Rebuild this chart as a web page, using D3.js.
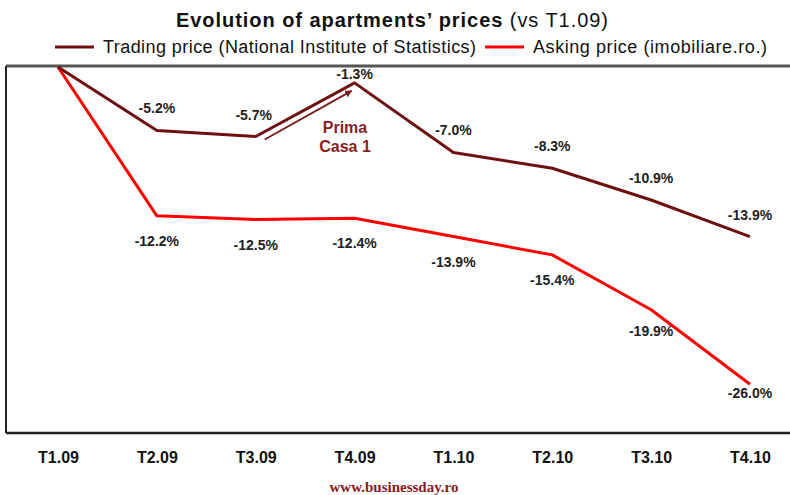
<!DOCTYPE html>
<meta charset="utf-8">
<head>
<script src="https://cdn.jsdelivr.net/npm/d3@7"></script>
<style>
  body { margin: 0; background: #fff; }
  svg { font-family: "Liberation Sans", Arial, sans-serif; }
</style>
</head>
<body>
<div id="chart"></div>
<script>
  var quarters = ["T1.09", "T2.09", "T3.09", "T4.09", "T1.10", "T2.10", "T3.10", "T4.10"];
  var tradingPrice = [0, -5.2, -5.7, -1.3, -7.0, -8.3, -10.9, -13.9];
  var askingPrice = [0, -12.2, -12.5, -12.4, -13.9, -15.4, -19.9, -26.0];

  var width = 790, height = 495;
  var frame = { left: 6, top: 66, bottom: 433 };
  var darkRed = "#6e1010", red = "#ff0000";

  var svg = d3.select("#chart").append("svg")
    .attr("width", width)
    .attr("height", height);

  var x = d3.scalePoint().domain(quarters).range([58, 750]);
  var y = d3.scaleLinear().domain([-30, 0]).range([frame.bottom, frame.top + 1]);

  // title
  var title = svg.append("text")
    .attr("x", 392).attr("y", 27)
    .attr("text-anchor", "middle")
    .attr("textLength", 432)
    .style("font-size", "20px").attr("fill", "#111");
  title.append("tspan").style("font-weight", "bold").text("Evolution of apartments\u2019 prices ");
  title.append("tspan").text("(vs T1.09)");

  // legend
  var legend = [
    { name: "Trading price (National Institute of Statistics)", color: darkRed, x: 55, len: 373 },
    { name: "Asking price (imobiliare.ro.)", color: red, x: 485, len: 234 }
  ];
  legend.forEach(function (d) {
    svg.append("line")
      .attr("x1", d.x).attr("x2", d.x + 39)
      .attr("y1", 47).attr("y2", 47)
      .attr("stroke", d.color).attr("stroke-width", 3);
    svg.append("text")
      .attr("x", d.x + 48).attr("y", 53)
      .attr("textLength", d.len)
      .style("font-size", "18px").attr("fill", "#111")
      .text(d.name);
  });

  // frame
  svg.append("line").attr("x1", frame.left).attr("x2", width)
    .attr("y1", frame.top).attr("y2", frame.top)
    .attr("stroke", "#555").attr("stroke-width", 3);
  svg.append("line").attr("x1", frame.left).attr("x2", frame.left)
    .attr("y1", frame.top).attr("y2", frame.bottom)
    .attr("stroke", "#222").attr("stroke-width", 2);
  svg.append("line").attr("x1", frame.left).attr("x2", width)
    .attr("y1", frame.bottom).attr("y2", frame.bottom)
    .attr("stroke", "#222").attr("stroke-width", 2.5);

  // x axis labels
  var xAxis = d3.axisBottom(x).tickSize(0).tickPadding(0);
  var gx = svg.append("g").attr("transform", "translate(0," + 452 + ")").call(xAxis);
  gx.select(".domain").remove();
  gx.selectAll("text")
    .style("font-size", "16px").style("font-weight", "bold")
    .style("font-family", "'Liberation Sans', Arial, sans-serif")
    .attr("fill", "#111");

  var line = d3.line()
    .x(function (d, i) { return x(quarters[i]); })
    .y(function (d) { return y(d); });

  svg.append("path").datum(askingPrice)
    .attr("d", line).attr("fill", "none")
    .attr("stroke", red).attr("stroke-width", 3)
    .attr("stroke-linejoin", "round");
  svg.append("path").datum(tradingPrice)
    .attr("d", line).attr("fill", "none")
    .attr("stroke", darkRed).attr("stroke-width", 3)
    .attr("stroke-linejoin", "round");

  // value labels
  function fmt(v) { return v.toFixed(1) + "%"; }

  svg.append("g").selectAll("text")
    .data(tradingPrice.slice(1))
    .enter().append("text")
    .attr("x", function (d, i) { return x(quarters[i + 1]) - (i == 1 ? 2 : 0); })
    .attr("y", function (d, i) { return y(d) + (i == 2 ? -4 : -17); })
    .attr("text-anchor", "middle")
    .style("font-size", "14px").style("font-weight", "bold")
    .attr("fill", "#222")
    .text(fmt);

  svg.append("g").selectAll("text")
    .data(askingPrice.slice(1))
    .enter().append("text")
    .attr("x", function (d, i) { return x(quarters[i + 1]) + (i == 6 ? 0 : 0); })
    .attr("y", function (d, i) { return y(d) + (i == 6 ? 14 : i == 5 ? 26 : 30); })
    .attr("text-anchor", "middle")
    .style("font-size", "14px").style("font-weight", "bold")
    .attr("fill", "#222")
    .text(fmt);

  // Prima Casa annotation arrow
  var defs = svg.append("defs");
  defs.append("marker")
    .attr("id", "arrowhead")
    .attr("viewBox", "0 0 10 10")
    .attr("refX", 9).attr("refY", 5)
    .attr("markerWidth", 4).attr("markerHeight", 4)
    .attr("orient", "auto")
    .append("path").attr("d", "M0,0L10,5L0,10z").attr("fill", "#7a1a1a");

  svg.append("line")
    .attr("x1", x("T3.09") + 9).attr("y1", y(-5.7) + 3)
    .attr("x2", x("T4.09") - 3).attr("y2", y(-1.3) + 8)
    .attr("stroke", "#7a1a1a").attr("stroke-width", 1.8)
    .attr("marker-end", "url(#arrowhead)");

  svg.append("text")
    .attr("x", 345).attr("y", 133)
    .attr("text-anchor", "middle")
    .style("font-size", "16px").style("font-weight", "bold")
    .attr("fill", "#8b1c24")
    .selectAll("tspan").data(["Prima", "Casa 1"])
    .enter().append("tspan")
    .attr("x", 345).attr("dy", function (d, i) { return i ? 19 : 0; })
    .text(function (d) { return d; });

  // source
  svg.append("text")
    .attr("x", 394).attr("y", 492)
    .attr("text-anchor", "middle")
    .style("font-family", "'Liberation Serif', serif")
    .style("font-size", "15px").style("font-weight", "bold")
    .attr("fill", "#8b1a1a")
    .text("www.businessday.ro");
</script>
</body>
